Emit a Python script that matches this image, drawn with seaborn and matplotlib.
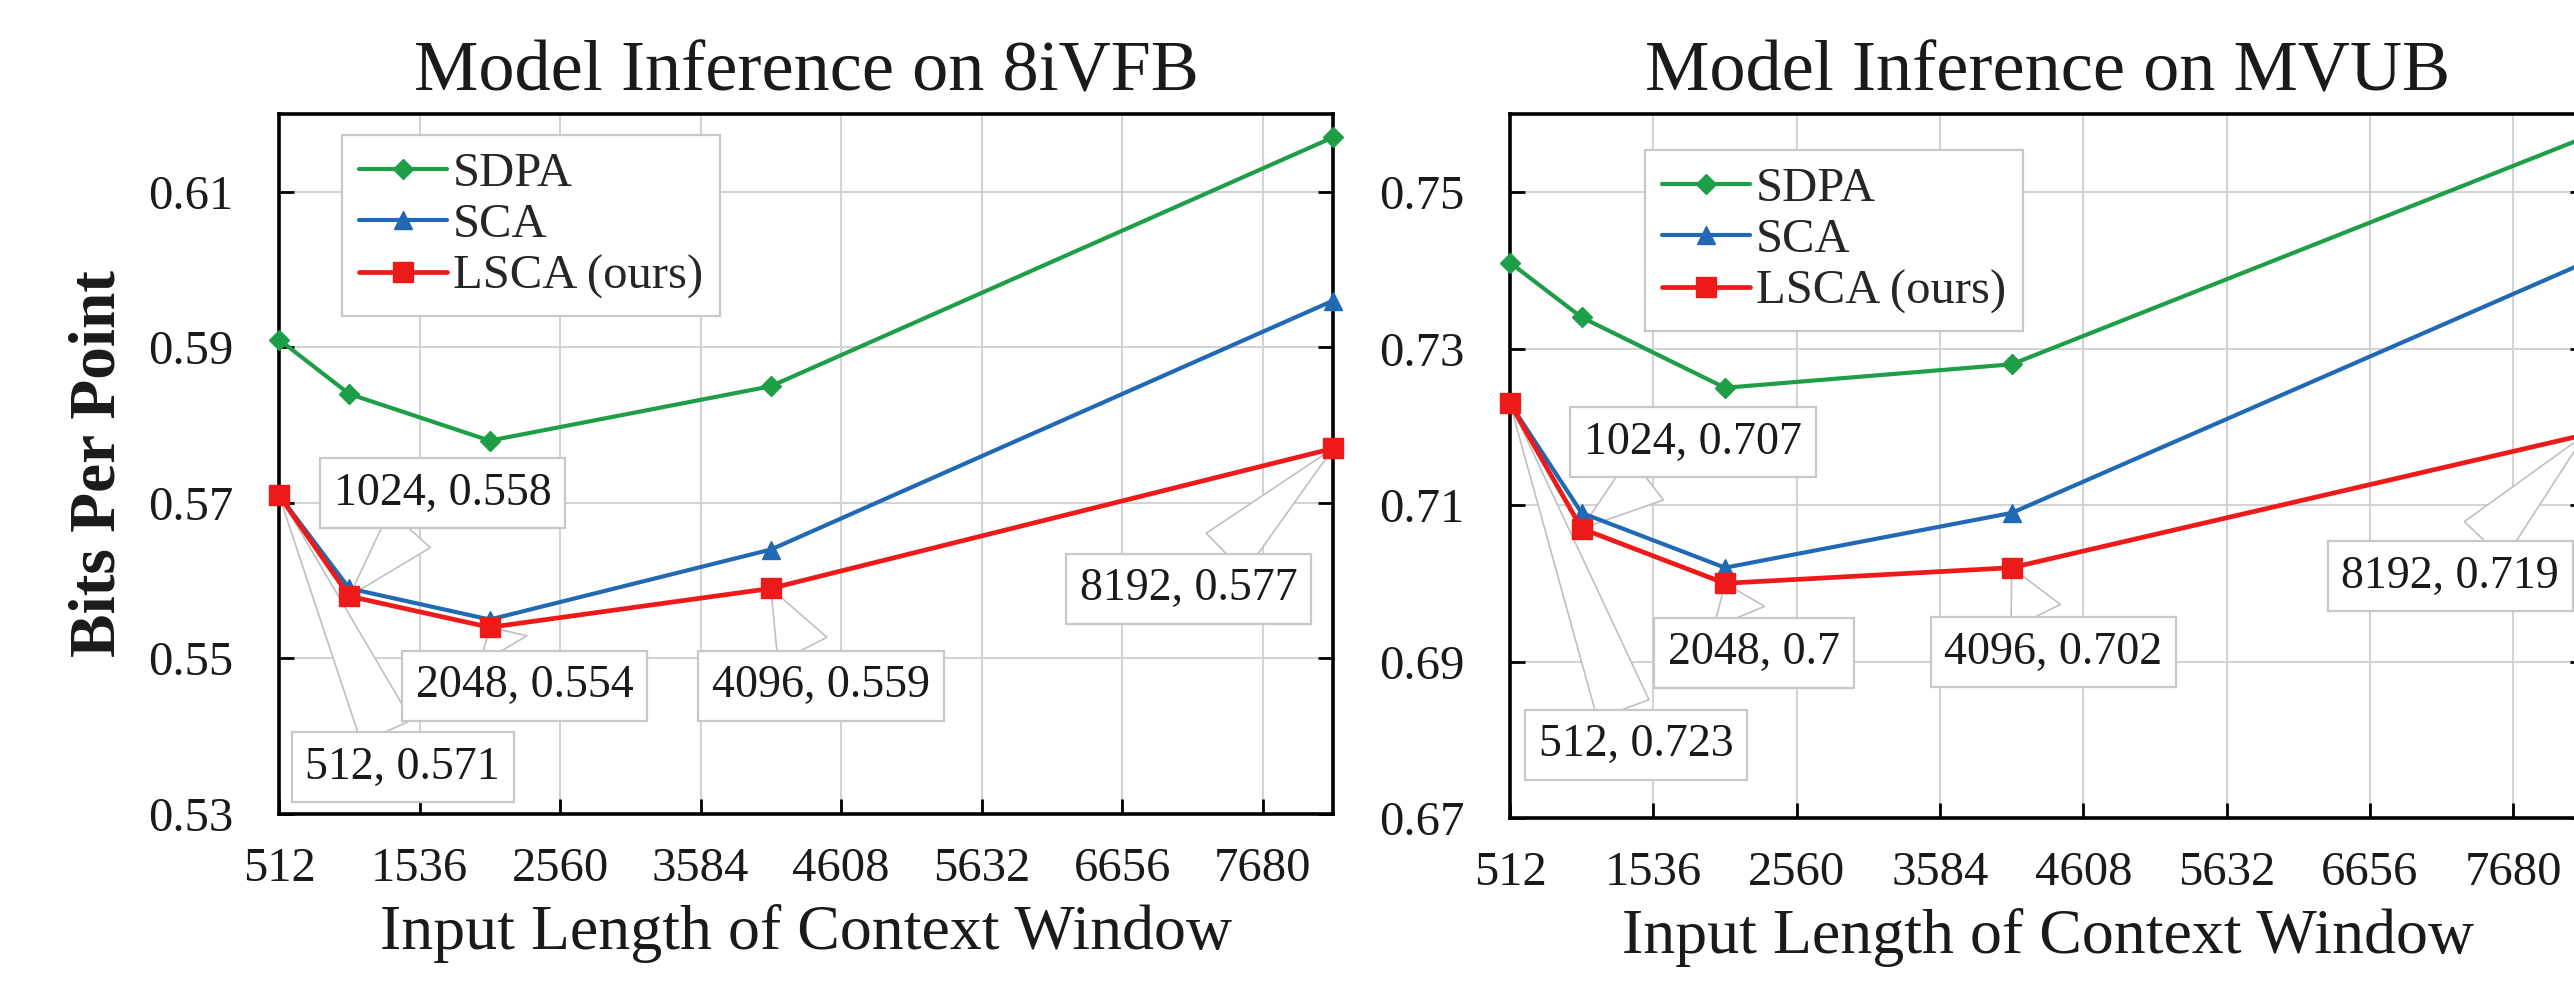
import matplotlib
matplotlib.use("Agg")
import matplotlib.pyplot as plt
import seaborn as sns
import pandas as pd

# ---- data ----
lengths = [512, 1024, 2048, 4096, 8192]
methods = ["SDPA", "SCA", "LSCA (ours)"]

vfb_sdpa = [0.591, 0.584, 0.578, 0.585, 0.617]
vfb_sca = [0.571, 0.559, 0.555, 0.564, 0.596]
vfb_lsca = [0.571, 0.558, 0.554, 0.559, 0.577]

mvub_sdpa = [0.741, 0.734, 0.725, 0.728, 0.757]
mvub_sca = [0.723, 0.709, 0.702, 0.709, 0.741]
mvub_lsca = [0.723, 0.707, 0.700, 0.702, 0.719]

x_ticks = [512, 1536, 2560, 3584, 4608, 5632, 6656, 7680]
vfb_yticks = [0.53, 0.55, 0.57, 0.59, 0.61]
mvub_yticks = [0.67, 0.69, 0.71, 0.73, 0.75]

titles = ["Model Inference on 8iVFB", "Model Inference on MVUB"]
x_label = "Input Length of Context Window"
y_label = "Bits Per Point"

# ---- style ----
sns.set_theme(style="white")
plt.rcParams["font.family"] = ["Liberation Serif", "DejaVu Serif"]

colors = {"SDPA": "#1f9e48", "SCA": "#2169b5", "LSCA (ours)": "#ee1a1a"}
markers = {"SDPA": "D", "SCA": "^", "LSCA (ours)": "s"}
msizes = {"SDPA": 10, "SCA": 13, "LSCA (ours)": 15}
lws = {"SDPA": 3.0, "SCA": 3.0, "LSCA (ours)": 3.4}

fig = plt.figure(figsize=(25.74, 9.85), dpi=100)
ax1 = fig.add_axes([279 / 2574, (985 - 814) / 985, 1054 / 2574, 700 / 985])
ax2 = fig.add_axes([1510 / 2574, (985 - 818) / 985, 1075 / 2574, 704 / 985])

panels = [
    (ax1, [vfb_sdpa, vfb_sca, vfb_lsca], vfb_yticks, (0.53, 0.62), (0.06, 0.97)),
    (ax2, [mvub_sdpa, mvub_sca, mvub_lsca], mvub_yticks, (0.67, 0.76), (0.126, 0.949)),
]

# callout offsets (points) for LSCA labels
offsets = [
    [(89, -196), (67, 74), (25, -42), (36, -70), (-104, -101)],
    [(91, -246), (80, 62), (21, -50), (30, -61), (-97, -102)],
]

for i, (ax, series, yt, ylim, legpos) in enumerate(panels):
    for name, vals in zip(methods, series):
        df = pd.DataFrame({"length": lengths, "bpp": vals})
        sns.lineplot(data=df, x="length", y="bpp", ax=ax, color=colors[name],
                     marker=markers[name], markersize=msizes[name],
                     markeredgecolor=colors[name], markeredgewidth=1,
                     linewidth=lws[name], label=name, zorder=4, clip_on=False)
    ax.set_xlim(512, 8192)
    ax.set_ylim(*ylim)
    ax.set_xticks(x_ticks)
    ax.set_yticks(yt)
    ax.set_xticklabels([str(v) for v in x_ticks])
    ax.set_yticklabels([f"{v:.2f}" for v in yt])
    ax.grid(True, color="#d3d3d3", linewidth=1.5, zorder=0)
    ax.set_axisbelow(True)
    for sp in ax.spines.values():
        sp.set_color("black")
        sp.set_linewidth(2.6)
    ax.tick_params(axis="x", direction="in", length=11, width=2, bottom=True,
                   top=False, labelsize=35, pad=24, colors="black", labelcolor="#1a1a1a")
    ax.tick_params(axis="y", direction="in", length=11, width=2, left=True,
                   right=True, labelsize=35, pad=33, colors="black", labelcolor="#1a1a1a")
    ax.set_title(titles[i], fontsize=52, pad=17, color="#1a1a1a")
    ax.set_xlabel(x_label, fontsize=46, labelpad=9, color="#1a1a1a")
    if i == 0:
        ax.set_ylabel(y_label, fontsize=47, fontweight="bold", labelpad=14, color="#1a1a1a")
    else:
        ax.set_ylabel("")

    leg = ax.legend(loc="upper left", bbox_to_anchor=legpos, borderaxespad=0,
                    fontsize=35, frameon=True, fancybox=False, framealpha=1,
                    edgecolor="#c8c8c8", handlelength=1.8, handletextpad=0.12,
                    labelspacing=0.15, borderpad=0.35)
    leg.get_frame().set_linewidth(1.6)
    leg.set_zorder(6)

    lsca = series[2]
    for (x, y), off in zip(zip(lengths, lsca), offsets[i]):
        lab = f"{x}, {y:g}"
        ax.annotate(lab, xy=(x, y), xycoords="data", xytext=off,
                    textcoords="offset points", ha="center", va="center",
                    fontsize=33, color="#1a1a1a", zorder=3, annotation_clip=False,
                    bbox=dict(boxstyle="square,pad=0.3", fc="white", ec="#c8c8c8", lw=1.6),
                    arrowprops=dict(arrowstyle="wedge,tail_width=1.2,shrink_factor=0.5",
                                    fc="white", ec="#c0c0c0", lw=1.2,
                                    shrinkA=0, shrinkB=0))

fig.savefig("out.png", dpi=100)
